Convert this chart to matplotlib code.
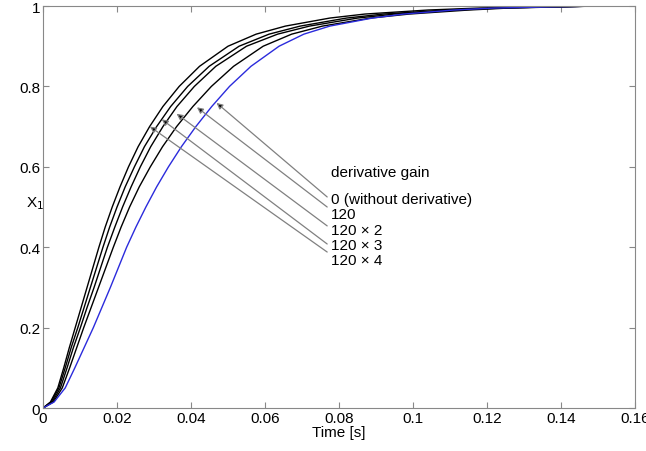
import matplotlib
matplotlib.use("Agg")
import matplotlib.pyplot as plt

plt.rcParams['font.family'] = ['Liberation Sans', 'DejaVu Sans']

# X1 levels and the time [s] where each curve reaches them
x_levels = [0, 0.015, 0.05, 0.1, 0.15, 0.2, 0.25, 0.3, 0.35, 0.4, 0.45, 0.5, 0.55,
            0.6, 0.65, 0.7, 0.75, 0.8, 0.85, 0.9, 0.93, 0.95, 0.97, 0.98, 0.99, 0.995, 1.0]

t_gain4 = [0, 0.0020, 0.0040, 0.0056, 0.0071, 0.0087, 0.0103, 0.0119, 0.0135, 0.0151,
           0.0168, 0.0187, 0.0208, 0.0231, 0.0257, 0.0288, 0.0324, 0.0368, 0.0423,
           0.0500, 0.0576, 0.0655, 0.0775, 0.0870, 0.1040, 0.1180, 0.15]
t_gain3 = [0, 0.0022, 0.0043, 0.0060, 0.0076, 0.0094, 0.0111, 0.0128, 0.0145, 0.0162,
           0.0180, 0.0200, 0.0222, 0.0247, 0.0274, 0.0307, 0.0345, 0.0391, 0.0449,
           0.0530, 0.0611, 0.0695, 0.0820, 0.0920, 0.1090, 0.1220, 0.15]
t_gain2 = [0, 0.0025, 0.0047, 0.0065, 0.0082, 0.0101, 0.0119, 0.0138, 0.0156, 0.0174,
           0.0194, 0.0215, 0.0238, 0.0263, 0.0291, 0.0324, 0.0362, 0.0409, 0.0467,
           0.0550, 0.0634, 0.0720, 0.0850, 0.0950, 0.1120, 0.1240, 0.15]
t_gain1 = [0, 0.0028, 0.0052, 0.0072, 0.0091, 0.0110, 0.0130, 0.0150, 0.0170, 0.0190,
           0.0211, 0.0234, 0.0260, 0.0290, 0.0323, 0.0361, 0.0405, 0.0455, 0.0515,
           0.0595, 0.0672, 0.0755, 0.0885, 0.0990, 0.1150, 0.1260, 0.15]
t_gain0 = [0, 0.0030, 0.0060, 0.0086, 0.0111, 0.0136, 0.0159, 0.0182, 0.0204, 0.0226,
           0.0251, 0.0278, 0.0307, 0.0339, 0.0374, 0.0413, 0.0456, 0.0504, 0.0562,
           0.0638, 0.0705, 0.0775, 0.0890, 0.0975, 0.1110, 0.1220, 0.15]

labels = ['0 (without derivative)', '120', '120 \u00d7 2', '120 \u00d7 3', '120 \u00d7 4']
label_y = [0.52, 0.482, 0.444, 0.406, 0.368]
# arrow tips on each curve and tails near the labels
tip_t = [0.0469, 0.0416, 0.0361, 0.0321, 0.0289]
tip_x = [0.759, 0.748, 0.732, 0.718, 0.700]
tail_y = [0.525, 0.50, 0.453, 0.408, 0.388]

fig = plt.figure(figsize=(6.46, 4.52), dpi=100)
ax = fig.add_axes([0.0666, 0.0951, 0.9164, 0.8894])

for t in [t_gain4, t_gain3, t_gain2, t_gain1]:
    ax.plot(t, x_levels, color='black', lw=1.0)
ax.plot(t_gain0, x_levels, color='#2b2bdc', lw=1.0)

for i in range(len(labels)):
    ax.annotate('', xy=(tip_t[i], tip_x[i]), xytext=(0.0768, tail_y[i]),
                arrowprops=dict(arrowstyle='-|>', ec='#808080', fc='black', lw=0.9,
                                mutation_scale=9, shrinkA=0, shrinkB=0))
    ax.text(0.0778, label_y[i], labels[i], fontsize=11, va='center', ha='left')
ax.text(0.0778, 0.588, 'derivative gain', fontsize=11, va='center', ha='left')

ax.set_xlim(0, 0.16)
ax.set_ylim(0, 1)
ax.set_xticks([0, 0.02, 0.04, 0.06, 0.08, 0.1, 0.12, 0.14, 0.16])
ax.set_xticklabels(['0', '0.02', '0.04', '0.06', '0.08', '0.1', '0.12', '0.14', '0.16'])
ax.set_yticks([0, 0.2, 0.4, 0.6, 0.8, 1])
ax.set_yticklabels(['0', '0.2', '0.4', '0.6', '0.8', '1'])
ax.tick_params(direction='in', length=4, color='#888888', labelsize=11,
               top=True, right=True, pad=2)
for s in ax.spines.values():
    s.set_color('#888888')
ax.set_xlabel('Time [s]', fontsize=11, labelpad=0)
ax.text(-0.014, 0.51, r'X$_1$', transform=ax.transAxes, fontsize=11,
        ha='center', va='center')

fig.savefig('out.png', dpi=100)
